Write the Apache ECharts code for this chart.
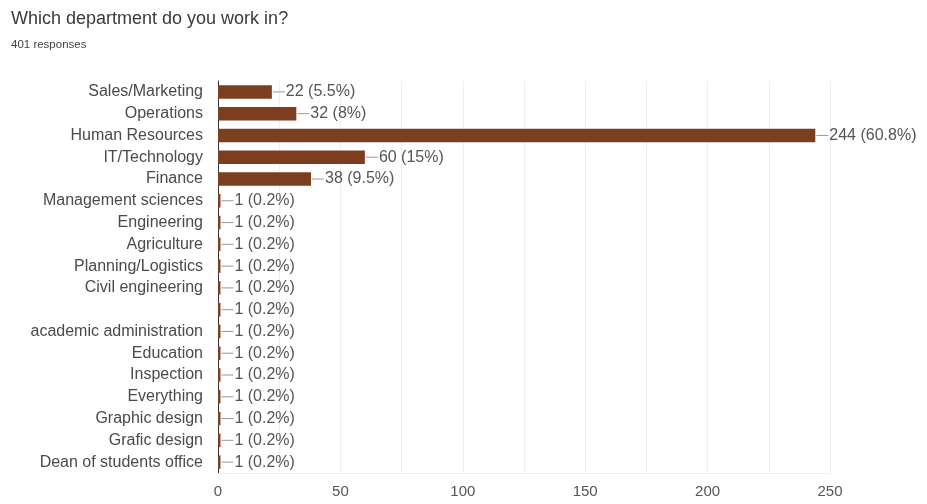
<!DOCTYPE html>
<html>
<head>
<meta charset="utf-8">
<script src="https://cdn.jsdelivr.net/npm/echarts@6/dist/echarts.min.js"></script>
<style>
  html, body { margin: 0; padding: 0; background: #fff; }
  #chart { width: 927px; height: 504px; }
</style>
</head>
<body>
<div id="chart"></div>
<script>
const departments = [
  'Sales/Marketing', 'Operations', 'Human Resources', 'IT/Technology', 'Finance',
  'Management sciences', 'Engineering', 'Agriculture', 'Planning/Logistics',
  'Civil engineering', '', 'academic administration', 'Education', 'Inspection',
  'Everything', 'Graphic design', 'Grafic design', 'Dean of students office'
];
const counts = [22, 32, 244, 60, 38, 1, 1, 1, 1, 1, 1, 1, 1, 1, 1, 1, 1, 1];
const percents = ['5.5%', '8%', '60.8%', '15%', '9.5%', '0.2%', '0.2%', '0.2%', '0.2%',
  '0.2%', '0.2%', '0.2%', '0.2%', '0.2%', '0.2%', '0.2%', '0.2%', '0.2%'];
const xTicks = [0, 50, 100, 150, 200, 250];

const chart = echarts.init(document.getElementById('chart'));

chart.setOption({
  animation: false,
  textStyle: { fontFamily: '"Liberation Sans", Arial, sans-serif' },
  title: {
    text: 'Which department do you work in?',
    subtext: '401 responses',
    left: 6,
    top: 5,
    itemGap: 11,
    textStyle: { fontSize: 18, fontWeight: 'normal', color: '#3a3a3a' },
    subtextStyle: { fontSize: 11.5, color: '#444' }
  },
  grid: { left: 218, right: 97, top: 81, bottom: 31, containLabel: false },
  xAxis: {
    type: 'value',
    min: xTicks[0],
    max: xTicks[xTicks.length - 1],
    interval: 50,
    axisLine: { show: true, lineStyle: { color: '#eeeeee' } },
    axisTick: { show: false },
    minorTick: { show: false, splitNumber: 2 },
    minorSplitLine: { show: true, lineStyle: { color: '#eeeeee' } },
    axisLabel: { color: '#555', fontSize: 15, margin: 11 },
    splitLine: { lineStyle: { color: '#eeeeee' } }
  },
  yAxis: {
    type: 'category',
    inverse: true,
    data: departments,
    axisLine: { lineStyle: { color: '#333', width: 1 } },
    axisTick: { show: false },
    axisLabel: { color: '#4a4a4a', fontSize: 16, margin: 15 }
  },
  series: [{
    type: 'bar',
    data: counts,
    barWidth: '62%',
    itemStyle: { color: '#7b3f20' },
    label: {
      show: true,
      position: 'right',
      distance: 1,
      formatter: p => '{l|}{v|' + p.value + ' (' + percents[p.dataIndex] + ')}',
      rich: {
        l: { width: 12, height: 1, backgroundColor: '#999' },
        v: { color: '#555', fontSize: 16, padding: [0, 0, 0, 1] }
      }
    }
  }]
});
</script>
</body>
</html>
